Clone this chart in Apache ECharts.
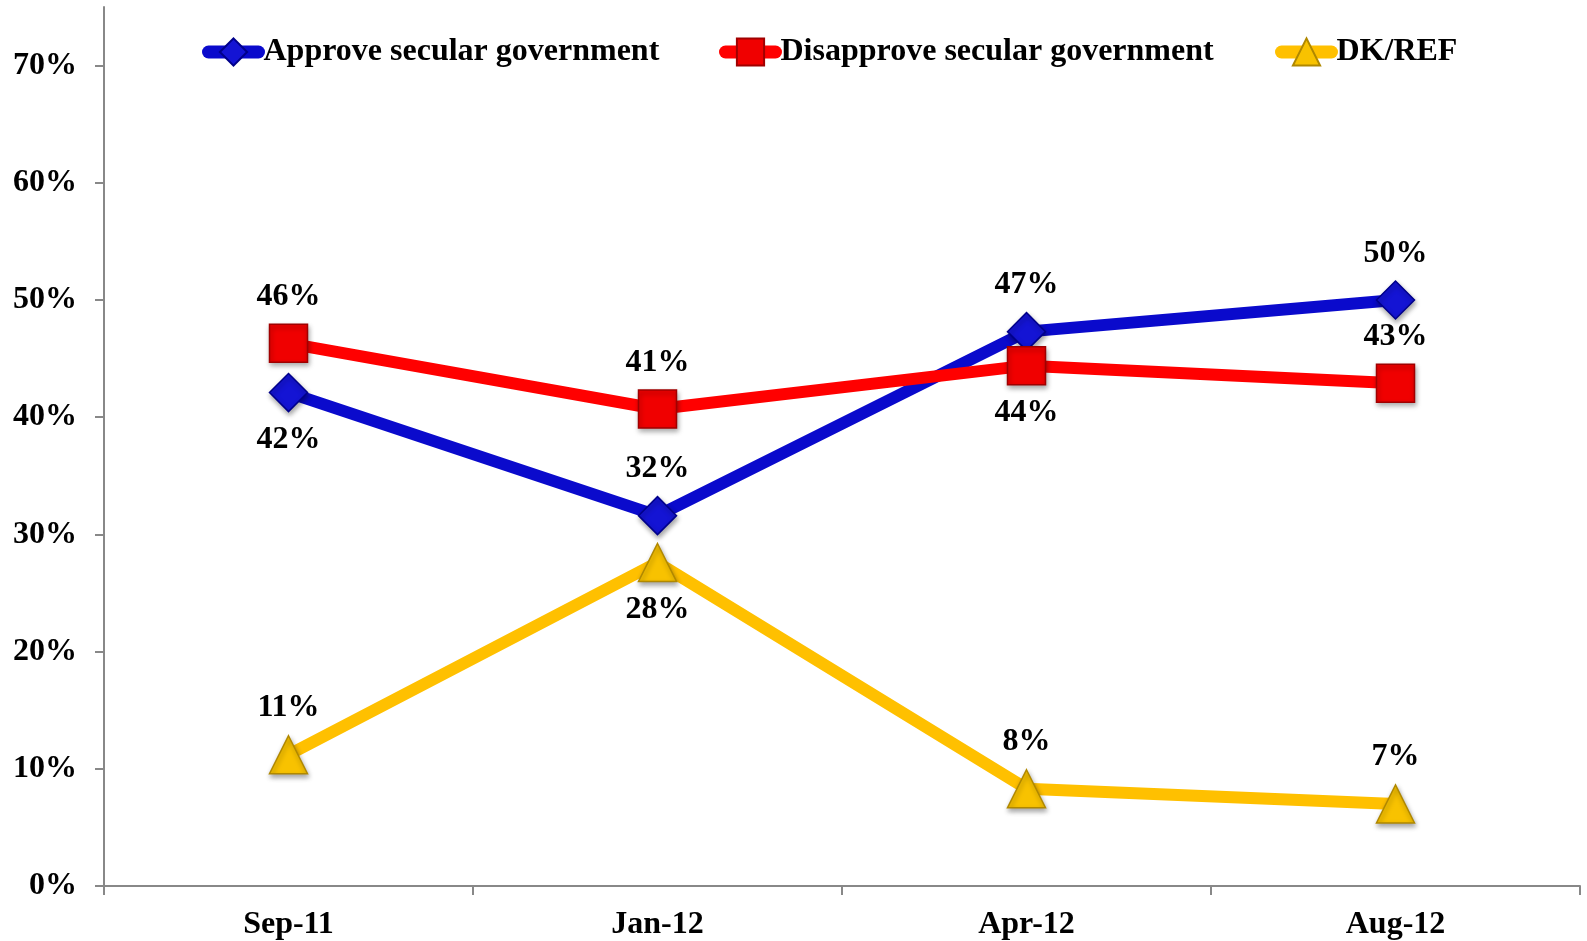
<!DOCTYPE html>
<html>
<head>
<meta charset="utf-8">
<script src="https://cdn.jsdelivr.net/npm/echarts@6/dist/echarts.min.js"></script>
<style>
html,body{margin:0;padding:0;background:#fff;}
#chart{width:1587px;height:941px;}
</style>
</head>
<body>
<div id="chart"></div>
<script>
var categories = ['Sep-11', 'Jan-12', 'Apr-12', 'Aug-12'];
var approve = [42.1, 31.6, 47.3, 50.0];
var disapprove = [46.3, 40.7, 44.4, 42.9];
var dkref = [11.2, 27.6, 8.3, 7.0];
var yTicks = [0, 10, 20, 30, 40, 50, 60, 70];
var approveLabelPos = ['bottom', 'top', 'top', 'top'];
var disapproveLabelPos = ['top', 'top', 'bottom', 'top'];
var dkLabelPos = ['top', 'bottom', 'top', 'top'];

var FONT = '"Liberation Serif", "Times New Roman", serif';
var FS = 32;

function buildData(vals, pos) {
  return vals.map(function (v, i) {
    return { value: v, label: { position: pos[i] } };
  });
}

var labelCommon = {
  show: true,
  distance: 11,
  fontFamily: FONT,
  fontWeight: 'bold',
  fontSize: FS,
  color: '#000',
  formatter: function (p) { return Math.round(p.value) + '%'; }
};

var shadow = { shadowBlur: 5, shadowOffsetX: 1, shadowOffsetY: 3, shadowColor: 'rgba(0,0,0,0.35)' };

function legendAt(name, left) {
  return {
    data: [name],
    left: left,
    top: 31,
    itemWidth: 50,
    itemHeight: 34,
    itemGap: 0,
    lineStyle: { width: 13, cap: 'round' },
    textStyle: { fontFamily: FONT, fontWeight: 'bold', fontSize: FS, color: '#000' }
  };
}

var chart = echarts.init(document.getElementById('chart'), null, { renderer: 'canvas' });
chart.setOption({
  backgroundColor: '#fff',
  animation: false,
  legend: [
    legendAt('Approve secular government', 197),
    legendAt('Disapprove secular government', 714),
    legendAt('DK/REF', 1270)
  ],
  grid: { left: 104, right: 7, top: 7, bottom: 55 },
  xAxis: {
    type: 'category',
    data: categories,
    boundaryGap: true,
    axisLine: { lineStyle: { color: '#888', width: 2 } },
    axisTick: { show: true, length: 9, lineStyle: { color: '#888', width: 2 } },
    axisLabel: { margin: 23, fontFamily: FONT, fontWeight: 'bold', fontSize: FS, color: '#000' }
  },
  yAxis: {
    type: 'value',
    min: 0,
    max: 75,
    interval: 10,
    splitLine: { show: false },
    axisLine: { show: true, lineStyle: { color: '#888', width: 2 } },
    axisTick: { show: true, length: 9, customValues: yTicks, lineStyle: { color: '#888', width: 2 } },
    axisLabel: {
      margin: 27,
      customValues: yTicks,
      fontFamily: FONT, fontWeight: 'bold', fontSize: FS, color: '#000',
      formatter: function (v) { return v + '%'; }
    }
  },
  series: [
    {
      name: 'Approve secular government',
      type: 'line',
      data: buildData(approve, approveLabelPos),
      symbol: 'diamond',
      symbolSize: 38,
      lineStyle: { color: '#0A0ACC', width: 12, cap: 'round' },
      itemStyle: Object.assign({ color: '#1414D4', borderColor: '#00008A', borderWidth: 1.5 }, shadow),
      label: labelCommon,
      z: 2
    },
    {
      name: 'Disapprove secular government',
      type: 'line',
      data: buildData(disapprove, disapproveLabelPos),
      symbol: 'rect',
      symbolSize: 38,
      lineStyle: { color: '#FF0000', width: 12, cap: 'round' },
      itemStyle: Object.assign({ color: '#F00000', borderColor: '#A00000', borderWidth: 1.5 }, shadow),
      label: labelCommon,
      z: 3
    },
    {
      name: 'DK/REF',
      type: 'line',
      data: buildData(dkref, dkLabelPos),
      symbol: 'triangle',
      symbolSize: [38, 38],
      lineStyle: { color: '#FFC000', width: 12, cap: 'round' },
      itemStyle: Object.assign({ color: '#F8C200', borderColor: '#B08800', borderWidth: 1.5 }, shadow),
      label: labelCommon,
      z: 4
    }
  ]
});
</script>
</body>
</html>
